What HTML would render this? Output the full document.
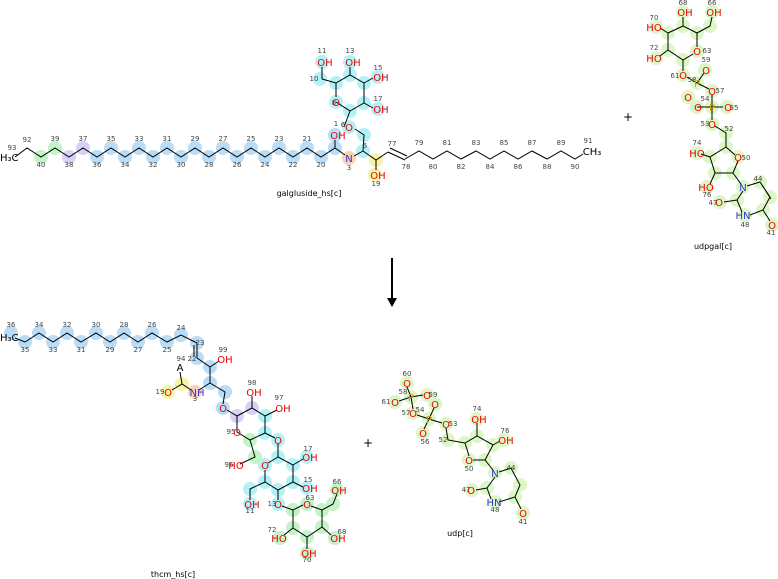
<!DOCTYPE html>
<html><head><meta charset="utf-8"><style>
html,body{margin:0;padding:0;background:#fff;}
svg{display:block;font-family:"DejaVu Sans","Liberation Sans",sans-serif;}
.n{font-size:7px;fill:#444;text-anchor:middle;}
.a{font-size:10px;text-anchor:middle;}
.o{fill:#e00;}.nn{fill:#33c;}.p{fill:#d90;}.k{fill:#000;}
.t{font-size:8px;fill:#000;text-anchor:middle;}
line,polyline,polygon.b{stroke:#000;stroke-width:1;fill:none;}
.bl{fill:#b9dcf7}.cy{fill:#b2f1f6}.gr{fill:#c3f3c6}.pu{fill:#d6d1f7}.lg{fill:#dcf7c6}.ye{fill:#f6f3a6}.or{fill:#f9d2b4}
</style></head><body>
<svg width="778" height="579" viewBox="0 0 778 579">
<g>
<circle class="gr" cx="41" cy="157" r="7"/><circle class="gr" cx="55" cy="148" r="7"/>
<circle class="pu" cx="69" cy="157" r="7"/><circle class="pu" cx="83" cy="148" r="7"/>
<g class="bl">
<circle cx="97" cy="157" r="7"/><circle cx="111" cy="148" r="7"/><circle cx="125" cy="157" r="7"/><circle cx="139" cy="148" r="7"/><circle cx="153" cy="157" r="7"/><circle cx="167" cy="148" r="7"/><circle cx="181" cy="157" r="7"/><circle cx="195" cy="148" r="7"/><circle cx="209" cy="157" r="7"/><circle cx="223" cy="148" r="7"/><circle cx="237" cy="157" r="7"/><circle cx="251" cy="148" r="7"/><circle cx="265" cy="157" r="7"/><circle cx="279" cy="148" r="7"/><circle cx="293" cy="157" r="7"/><circle cx="307" cy="148" r="7"/><circle cx="321" cy="157" r="7"/><circle cx="335" cy="148" r="7"/><circle cx="335" cy="135" r="7"/>
</g>
<circle class="or" cx="349" cy="158" r="7"/>
<g class="cy">
<circle cx="363" cy="151" r="7"/><circle cx="364" cy="135" r="7"/><circle cx="349" cy="127" r="7"/><circle cx="350" cy="111" r="7"/><circle cx="336" cy="102" r="7"/><circle cx="336" cy="83" r="7"/><circle cx="350" cy="75" r="7"/><circle cx="364" cy="83" r="7"/><circle cx="364" cy="103" r="7"/><circle cx="320" cy="79" r="7"/><circle cx="322" cy="62" r="7"/><circle cx="350" cy="62" r="7"/><circle cx="378" cy="77" r="7"/><circle cx="378" cy="109" r="7"/>
</g>
<circle class="ye" cx="376" cy="160" r="7"/><circle class="ye" cx="375" cy="175" r="7"/>
<polyline points="15,157 27,148 41,157 55,148 69,157 83,148 97,157 111,148 125,157 139,148 153,157 167,148 181,157 195,148 209,157 223,148 237,157 251,148 265,157 279,148 293,157 307,148 321,157 335,148 345,155"/>
<line x1="335" y1="148" x2="335" y2="140"/>
<polyline points="354,156 363,151 364,135 355,129"/>
<polyline points="344,127 350,111 336,102"/>
<polyline points="336,97 336,83 350,75 364,83 364,103 350,111"/>
<line x1="336" y1="83" x2="322" y2="79"/><line x1="322" y1="79" x2="322" y2="67"/>
<line x1="350" y1="75" x2="350" y2="67"/><line x1="364" y1="83" x2="373" y2="78"/><line x1="364" y1="103" x2="373" y2="108"/>
<polyline points="363,151 376,160 388,152"/><line x1="376" y1="160" x2="376" y2="170"/>
<line x1="388" y1="152" x2="405" y2="160"/><line x1="390" y1="148" x2="407" y2="156"/>
<polyline points="405,159 419,151 433,159 447,151 461,159 476,151 490,159 504,151 518,159 532,151 547,159 561,151 575,159 583,154"/>
<text class="a k" x="0" y="161" style="text-anchor:start">H₃C</text>
<g class="n">
<text x="12" y="150">93</text><text x="27" y="142">92</text>
<text x="41" y="167">40</text><text x="55" y="141">39</text><text x="69" y="167">38</text><text x="83" y="141">37</text><text x="97" y="167">36</text><text x="111" y="141">35</text><text x="125" y="167">34</text><text x="139" y="141">33</text><text x="153" y="167">32</text><text x="167" y="141">31</text><text x="181" y="167">30</text><text x="195" y="141">29</text><text x="209" y="167">28</text><text x="223" y="141">27</text><text x="237" y="167">26</text><text x="251" y="141">25</text><text x="265" y="167">24</text><text x="279" y="141">23</text><text x="293" y="167">22</text><text x="307" y="141">21</text><text x="321" y="167">20</text>
<text x="336" y="126">1</text><text x="349" y="170">3</text><text x="365" y="148">5</text><text x="343" y="127">6</text><text x="334" y="105">8</text><text x="314" y="81">10</text><text x="322" y="53">11</text><text x="350" y="53">13</text><text x="378" y="70">15</text><text x="378" y="101">17</text><text x="376" y="186">19</text>
<text x="392" y="146">77</text><text x="406" y="169">78</text><text x="419" y="145">79</text><text x="433" y="169">80</text><text x="447" y="145">81</text><text x="461" y="169">82</text><text x="476" y="145">83</text><text x="490" y="169">84</text><text x="504" y="145">85</text><text x="518" y="169">86</text><text x="532" y="145">87</text><text x="547" y="169">88</text><text x="561" y="145">89</text><text x="575" y="169">90</text><text x="588" y="143">91</text>
</g>
<text class="a o" x="338" y="139">OH</text><text class="a nn" x="349" y="162">N</text>
<text class="a o" x="349" y="131">O</text><text class="a o" x="336" y="106">O</text>
<text class="a o" x="325" y="66">OH</text><text class="a o" x="353" y="66">OH</text><text class="a o" x="381" y="81">OH</text><text class="a o" x="381" y="113">OH</text><text class="a o" x="378" y="179">OH</text>
<text class="a k" x="592" y="155">CH₃</text>
<text class="t" x="309" y="196">galgluside_hs[c]</text>
</g>

<g>
<g class="lg">
<circle cx="683" cy="12" r="7"/><circle cx="683" cy="26" r="7"/><circle cx="697" cy="33" r="7"/><circle cx="710" cy="26" r="7"/><circle cx="712" cy="12" r="7"/><circle cx="668" cy="33" r="7"/><circle cx="656" cy="27" r="7"/><circle cx="668" cy="50" r="7"/><circle cx="656" cy="58" r="7"/><circle cx="683" cy="60" r="7"/><circle cx="697" cy="51" r="7"/><circle cx="683" cy="75" r="7"/><circle cx="697" cy="83" r="7"/><circle cx="705" cy="70" r="7"/><circle cx="712" cy="91" r="7"/><circle cx="688" cy="97" r="7"/><circle cx="712" cy="107" r="7"/><circle cx="697" cy="107" r="7"/><circle cx="727" cy="107" r="7"/><circle cx="712" cy="124" r="7"/><circle cx="726" cy="133" r="7"/><circle cx="726" cy="147" r="7"/><circle cx="738" cy="157" r="7"/><circle cx="733" cy="173" r="7"/><circle cx="715" cy="173" r="7"/><circle cx="710" cy="157" r="7"/><circle cx="697" cy="153" r="7"/><circle cx="707" cy="187" r="7"/><circle cx="743" cy="187" r="7"/><circle cx="760" cy="182" r="7"/><circle cx="770" cy="197" r="7"/><circle cx="763" cy="210" r="7"/><circle cx="772" cy="225" r="7"/><circle cx="745" cy="215" r="7"/><circle cx="737" cy="200" r="7"/><circle cx="720" cy="202" r="7"/>
</g>
<polyline points="683,17 683,26 697,33 710,26 712,17"/>
<polyline points="683,26 668,33 668,50 683,60 693,54"/>
<line x1="697" y1="33" x2="697" y2="47"/><line x1="668" y1="33" x2="660" y2="28"/><line x1="668" y1="50" x2="660" y2="56"/>
<polyline points="683,60 683,71"/><polyline points="687,77 697,83 709,89"/><line x1="697" y1="83" x2="704" y2="73"/>
<polyline points="712,95 712,107 712,120"/><line x1="697" y1="107" x2="712" y2="107"/><line x1="712" y1="107" x2="723" y2="107"/>
<polyline points="715,126 726,133 726,147 735,155"/><polyline points="726,147 710,157 715,173 733,173 738,161"/>
<line x1="710" y1="157" x2="701" y2="154"/><line x1="715" y1="173" x2="710" y2="184"/><line x1="733" y1="173" x2="741" y2="184"/>
<polyline points="747,186 760,182 770,197 763,210 750,215"/><line x1="743" y1="191" x2="737" y2="200"/><line x1="737" y1="200" x2="742" y2="212"/><line x1="737" y1="200" x2="724" y2="202"/><line x1="763" y1="210" x2="770" y2="221"/><line x1="762" y1="185" x2="771" y2="199"/>
<g class="n">
<text x="683" y="5">68</text><text x="712" y="5">66</text><text x="654" y="20">70</text><text x="654" y="50">72</text><text x="707" y="53">63</text><text x="675" y="78">61</text><text x="706" y="62">59</text><text x="692" y="82">58</text><text x="720" y="93">57</text><text x="705" y="101">54</text><text x="734" y="110">55</text><text x="705" y="126">53</text><text x="729" y="131">52</text><text x="746" y="160">50</text><text x="697" y="145">74</text><text x="707" y="197">76</text><text x="758" y="181">44</text><text x="713" y="205">47</text><text x="745" y="227">48</text><text x="771" y="235">41</text>
</g>
<text class="a o" x="685" y="16">OH</text><text class="a o" x="714" y="16">OH</text><text class="a o" x="654" y="31">HO</text><text class="a o" x="654" y="62">HO</text><text class="a o" x="697" y="55">O</text>
<text class="a o" x="683" y="79">O</text><text class="a p" x="697" y="87">P</text><text class="a o" x="706" y="74">O</text><text class="a o" x="712" y="95">O</text><text class="a o" x="688" y="101">O</text><text class="a p" x="712" y="111">P</text><text class="a o" x="698" y="111">O</text><text class="a o" x="728" y="111">O</text><text class="a o" x="712" y="128">O</text><text class="a o" x="738" y="161">O</text><text class="a o" x="697" y="157">HO</text><text class="a o" x="706" y="191">HO</text><text class="a nn" x="743" y="191">N</text><text class="a o" x="719" y="206">O</text><text class="a nn" x="743" y="219">HN</text><text class="a o" x="772" y="229">O</text>
<text class="t" x="713" y="249">udpgal[c]</text>
</g>

<text class="a k" x="628" y="121" style="font-size:12px">+</text>
<text class="a k" x="368" y="447" style="font-size:12px">+</text>
<line x1="392" y1="258" x2="392" y2="300" style="stroke-width:2"/>
<polygon points="387,298 397,298 392,307" fill="#000"/>

<g>
<g class="bl">
<circle cx="11" cy="333" r="7"/><circle cx="25" cy="342" r="7"/><circle cx="39" cy="333" r="7"/><circle cx="53" cy="342" r="7"/><circle cx="67" cy="333" r="7"/><circle cx="81" cy="342" r="7"/><circle cx="96" cy="333" r="7"/><circle cx="110" cy="342" r="7"/><circle cx="124" cy="333" r="7"/><circle cx="138" cy="342" r="7"/><circle cx="152" cy="333" r="7"/><circle cx="167" cy="342" r="7"/><circle cx="181" cy="335" r="7"/><circle cx="197" cy="343" r="7"/><circle cx="197" cy="358" r="7"/><circle cx="210" cy="367" r="7"/><circle cx="210" cy="383" r="7"/><circle cx="225" cy="392" r="7"/><circle cx="223" cy="408" r="7"/>
</g>
<circle class="ye" cx="182" cy="384" r="7"/><circle class="ye" cx="168" cy="392" r="7"/><circle class="or" cx="195" cy="392" r="7"/>
<circle class="pu" cx="237" cy="416" r="7"/><circle class="pu" cx="252" cy="408" r="7"/>
<g class="cy"><circle cx="265" cy="416" r="7"/><circle cx="265" cy="433" r="7"/><circle cx="278" cy="440" r="7"/><circle cx="278" cy="457" r="7"/><circle cx="293" cy="465" r="7"/><circle cx="265" cy="465" r="7"/><circle cx="265" cy="482" r="7"/><circle cx="278" cy="490" r="7"/><circle cx="293" cy="482" r="7"/><circle cx="307" cy="457" r="7"/><circle cx="307" cy="488" r="7"/><circle cx="250" cy="489" r="7"/><circle cx="250" cy="504" r="7"/><circle cx="278" cy="504" r="7"/></g>
<g class="gr"><circle cx="250" cy="440" r="7"/><circle cx="255" cy="457" r="7"/><circle cx="293" cy="510" r="7"/><circle cx="307" cy="504" r="7"/><circle cx="322" cy="510" r="7"/><circle cx="333" cy="504" r="7"/><circle cx="337" cy="490" r="7"/><circle cx="322" cy="527" r="7"/><circle cx="335" cy="538" r="7"/><circle cx="307" cy="537" r="7"/><circle cx="307" cy="553" r="7"/><circle cx="293" cy="528" r="7"/><circle cx="280" cy="538" r="7"/></g>
<polyline points="15,338 25,342 39,333 53,342 67,333 81,342 96,333 110,342 124,333 138,342 152,333 167,342 181,335 197,343"/>
<line x1="197" y1="343" x2="197" y2="358"/><line x1="194" y1="345" x2="194" y2="356"/>
<polyline points="197,358 210,367 210,383 225,392 223,404"/><line x1="210" y1="367" x2="219" y2="361"/>
<polyline points="210,383 199,390"/><polyline points="191,390 182,384 172,390"/><line x1="182" y1="384" x2="180" y2="372"/>
<polyline points="227,410 237,416 252,408 265,416 265,433 250,440 237,432 237,416"/>
<line x1="252" y1="408" x2="252" y2="396"/><line x1="265" y1="416" x2="277" y2="410"/>
<polyline points="265,433 275,438"/><polyline points="278,444 278,457 293,465 293,482 278,490 265,482 265,470"/><polyline points="278,457 268,463"/>
<polyline points="250,440 255,457 240,464"/><line x1="293" y1="465" x2="303" y2="459"/><line x1="293" y1="482" x2="303" y2="487"/>
<polyline points="265,482 250,489 250,500"/><polyline points="278,490 278,500"/>
<polyline points="282,506 293,510 303,505"/><polyline points="311,506 322,510 333,504 337,494"/><polyline points="322,510 322,527 307,537 293,528 293,510"/>
<line x1="322" y1="527" x2="331" y2="535"/><line x1="307" y1="537" x2="307" y2="549"/><line x1="293" y1="528" x2="284" y2="535"/>
<text class="a k" x="0" y="341" style="text-anchor:start">H₃C</text>
<g class="n">
<text x="11" y="327">36</text><text x="25" y="352">35</text><text x="39" y="327">34</text><text x="53" y="352">33</text><text x="67" y="327">32</text><text x="81" y="352">31</text><text x="96" y="327">30</text><text x="110" y="352">29</text><text x="124" y="327">28</text><text x="138" y="352">27</text><text x="152" y="327">26</text><text x="167" y="352">25</text><text x="181" y="330">24</text><text x="200" y="345">23</text><text x="192" y="361">22</text>
<text x="223" y="352">99</text><text x="181" y="361">94</text><text x="160" y="394">19</text><text x="195" y="401">3</text><text x="252" y="385">98</text><text x="279" y="400">97</text><text x="231" y="434">95</text><text x="229" y="467">96</text><text x="308" y="451">17</text><text x="308" y="482">15</text><text x="250" y="513">11</text><text x="272" y="506">13</text><text x="310" y="500">63</text><text x="337" y="484">66</text><text x="342" y="534">68</text><text x="307" y="562">70</text><text x="272" y="532">72</text>
</g>
<text class="a k" x="180" y="371">A</text>
<text class="a o" x="225" y="363">OH</text><text class="a o" x="168" y="396">O</text><text class="a nn" x="197" y="396">NH</text><text class="a o" x="223" y="412">O</text><text class="a o" x="254" y="396">OH</text><text class="a o" x="283" y="412">OH</text><text class="a o" x="237" y="436">O</text><text class="a o" x="278" y="444">O</text><text class="a o" x="236" y="469">HO</text><text class="a o" x="265" y="469">O</text><text class="a o" x="310" y="461">OH</text><text class="a o" x="310" y="492">OH</text><text class="a o" x="252" y="508">OH</text><text class="a o" x="278" y="508">O</text><text class="a o" x="307" y="508">O</text><text class="a o" x="339" y="494">OH</text><text class="a o" x="338" y="542">OH</text><text class="a o" x="309" y="557">OH</text><text class="a o" x="279" y="542">HO</text>
<text class="t" x="173" y="577">thcm_hs[c]</text>
</g>

<g>
<g class="lg">
<circle cx="407" cy="383" r="7"/><circle cx="411" cy="397" r="7"/><circle cx="395" cy="402" r="7"/><circle cx="427" cy="395" r="7"/><circle cx="413" cy="413" r="7"/><circle cx="429" cy="419" r="7"/><circle cx="435" cy="404" r="7"/><circle cx="423" cy="433" r="7"/><circle cx="446" cy="424" r="7"/><circle cx="448" cy="440" r="7"/><circle cx="465" cy="443" r="7"/><circle cx="477" cy="436" r="7"/><circle cx="477" cy="419" r="7"/><circle cx="493" cy="445" r="7"/><circle cx="504" cy="440" r="7"/><circle cx="485" cy="460" r="7"/><circle cx="469" cy="460" r="7"/><circle cx="495" cy="473" r="7"/><circle cx="511" cy="468" r="7"/><circle cx="520" cy="485" r="7"/><circle cx="515" cy="497" r="7"/><circle cx="523" cy="513" r="7"/><circle cx="495" cy="502" r="7"/><circle cx="487" cy="488" r="7"/><circle cx="472" cy="490" r="7"/>
</g>
<polyline points="407,387 411,397 399,401"/><line x1="411" y1="397" x2="423" y2="395"/><polyline points="411,397 413,409"/><polyline points="417,415 429,419 442,423"/><line x1="429" y1="419" x2="434" y2="408"/><line x1="429" y1="419" x2="424" y2="429"/>
<polyline points="446,428 448,440 465,443 477,436 493,445 485,460 473,460"/><line x1="465" y1="443" x2="469" y2="456"/><line x1="477" y1="436" x2="477" y2="423"/><line x1="493" y1="445" x2="500" y2="441"/>
<line x1="485" y1="460" x2="493" y2="470"/><polyline points="499,472 511,468 520,485 515,497 499,502"/><line x1="495" y1="477" x2="487" y2="488"/><line x1="487" y1="488" x2="491" y2="499"/><line x1="487" y1="488" x2="476" y2="490"/><line x1="515" y1="497" x2="521" y2="509"/>
<g class="n"><text x="407" y="376">60</text><text x="403" y="394">58</text><text x="386" y="404">61</text><text x="433" y="397">59</text><text x="406" y="415">57</text><text x="420" y="412">54</text><text x="425" y="444">56</text><text x="453" y="426">53</text><text x="443" y="442">52</text><text x="477" y="411">74</text><text x="505" y="433">76</text><text x="469" y="471">50</text><text x="511" y="470">44</text><text x="466" y="492">47</text><text x="495" y="512">48</text><text x="523" y="524">41</text></g>
<text class="a o" x="407" y="387">O</text><text class="a p" x="411" y="401">P</text><text class="a o" x="395" y="406">O</text><text class="a o" x="427" y="399">O</text><text class="a o" x="413" y="417">O</text><text class="a p" x="429" y="423">P</text><text class="a o" x="435" y="408">O</text><text class="a o" x="423" y="437">O</text><text class="a o" x="446" y="428">O</text><text class="a o" x="479" y="423">OH</text><text class="a o" x="506" y="444">OH</text><text class="a o" x="469" y="464">O</text><text class="a nn" x="495" y="477">N</text><text class="a o" x="471" y="494">O</text><text class="a nn" x="494" y="506">HN</text><text class="a o" x="523" y="517">O</text>
<text class="t" x="460" y="536">udp[c]</text>
</g>
</svg>
</body></html>
